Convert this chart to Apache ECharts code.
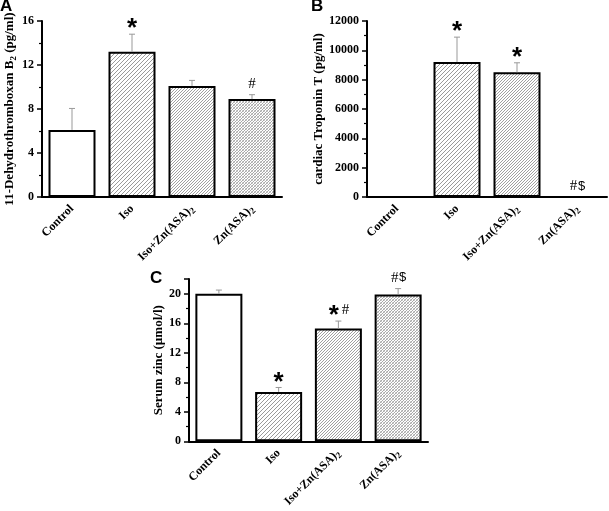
<!DOCTYPE html>
<html>
<head>
<meta charset="utf-8">
<script src="https://cdn.jsdelivr.net/npm/echarts@6/dist/echarts.min.js"></script>
<style>html,body{margin:0;padding:0;background:#fff}#c{width:609px;height:511px}</style>
</head>
<body>
<div id="c"></div>
<script>
// ---- data ----
const categories = ['Control', 'Iso', 'Iso+Zn(ASA)2', 'Zn(ASA)2'];
const thromboxanMean = [6.1, 13.2, 10.1, 8.9];
const thromboxanErrTop = [8.05, 14.8, 10.6, 9.3];
const thromboxanMarks = ['', '*', '', '#'];
const troponinMean = [0, 9200, 8500, 0];
const troponinErrTop = [null, 10900, 9150, null];
const troponinMarks = ['', '*', '*', '#$'];
const zincMean = [20.0, 6.7, 15.3, 19.9];
const zincErrTop = [20.5, 7.3, 16.3, 20.7];
const zincMarks = ['', '*', '*#', '#$'];
const yTicksA = [0, 16, 4];
const yTicksB = [0, 12000, 2000];
const yTicksC = [0, 22, 4];

// ---- styles ----
function hatch(p, color, lw, crossColor) {
  const c = document.createElement('canvas');
  c.width = p; c.height = p;
  const g = c.getContext('2d');
  g.fillStyle = '#fff'; g.fillRect(0, 0, p, p);
  if (crossColor) {
    g.strokeStyle = crossColor; g.lineWidth = lw;
    g.beginPath();
    g.moveTo(0, 0); g.lineTo(p, p);
    g.moveTo(-1, p - 1); g.lineTo(1, p + 1);
    g.moveTo(p - 1, -1); g.lineTo(p + 1, 1);
    g.stroke();
  }
  g.strokeStyle = color; g.lineWidth = lw;
  g.beginPath();
  g.moveTo(0, p); g.lineTo(p, 0);
  g.moveTo(-1, 1); g.lineTo(1, -1);
  g.moveTo(p - 1, p + 1); g.lineTo(p + 1, p - 1);
  g.stroke();
  return { image: c, repeat: 'repeat' };
}
const fills = ['#ffffff', hatch(4, '#9a9a9a', 1), hatch(3, '#a0a0a0', 1), hatch(3, '#a8a8a8', 1, '#d0d0d0')];
const serif = 'Liberation Serif';
const tickFont = { fontFamily: serif, fontWeight: 'bold', fontSize: 12, color: '#000' };

function catLabel(v) {
  return v.replace(/\)2$/, '){sub|2}');
}

const grids = [
  { left: 42, top: 21, width: 240, height: 176 },
  { left: 367, top: 21, width: 240, height: 176 },
  { left: 189, top: 279, width: 239, height: 176 }
];

function xAxis(i) {
  return {
    gridIndex: i, type: 'category', data: categories,
    axisLine: { lineStyle: { color: '#000', width: 2 } },
    axisTick: { show: false },
    axisLabel: Object.assign({}, tickFont, {
      rotate: 45, margin: 10, formatter: catLabel, interval: 0,
      rich: { sub: { fontFamily: serif, fontWeight: 'bold', fontSize: 9, padding: [7, 0, 0, 0], color: '#000' } }
    })
  };
}
function yAxis(i, ticks, name, gap) {
  return {
    gridIndex: i, type: 'value', min: ticks[0], max: ticks[1], interval: ticks[2],
    name: name, nameLocation: 'middle', nameGap: gap, nameRotate: 90,
    nameTextStyle: {
      fontFamily: serif, fontWeight: 'bold', fontSize: 13, color: '#000',
      rich: { sub: { fontFamily: serif, fontWeight: 'bold', fontSize: 9, padding: [7, 0, 0, 0], color: '#000' } }
    },
    axisLine: { show: true, lineStyle: { color: '#000', width: 2 } },
    axisTick: { show: true, inside: false, length: 5, lineStyle: { color: '#000', width: 1.5 } },
    minorTick: { show: true, splitNumber: 2, length: 3, lineStyle: { color: '#000', width: 1.2 } },
    splitLine: { show: false },
    axisLabel: Object.assign({}, tickFont, {
      margin: 8, showMaxLabel: ticks[1] % ticks[2] === 0,
      formatter: v => String(v)
    })
  };
}

function barSeries(i, means) {
  return {
    type: 'bar', xAxisIndex: i, yAxisIndex: i, barWidth: 47,
    data: means.map((v, k) => ({ value: v, itemStyle: { color: fills[k] } })),
    itemStyle: { borderColor: '#000', borderWidth: 2 },
    silent: true, z: 2
  };
}

function errSeries(i, means, tops, marks) {
  return {
    type: 'custom', xAxisIndex: i, yAxisIndex: i, z: 3, silent: true,
    data: means.map((m, k) => [k, m, tops[k] == null ? m : tops[k]]),
    renderItem: function (params, api) {
      const k = api.value(0);
      const base = api.coord([k, api.value(1)]);
      const top = api.coord([k, api.value(2)]);
      const children = [];
      if (api.value(2) > api.value(1)) {
        children.push({ type: 'line', shape: { x1: base[0], y1: base[1], x2: top[0], y2: top[1] }, style: { stroke: '#999', lineWidth: 1 } });
        children.push({ type: 'line', shape: { x1: top[0] - 3, y1: top[1], x2: top[0] + 3, y2: top[1] }, style: { stroke: '#999', lineWidth: 1 } });
      }
      const s = marks[k] || '';
      const widths = s.split('').map(ch => ch === '*' ? 14 : (ch === '$' ? 7 : 9));
      const total = widths.reduce((a, b) => a + b, 0);
      let x = top[0] - total / 2;
      s.split('').forEach((ch, j) => {
        const cx = x + widths[j] / 2;
        if (ch === '*') {
          children.push({ type: 'text', style: { text: '*', x: cx, y: top[1] - 5, fill: '#000', font: 'bold 26px "Liberation Sans"', align: 'center', verticalAlign: 'middle' } });
        } else if (ch === '$') {
          children.push({ type: 'text', style: { text: '$', x: cx, y: top[1] - 11, fill: '#000', font: '13px "Liberation Sans"', align: 'center', verticalAlign: 'middle' } });
        } else {
          children.push({ type: 'text', style: { text: ch, x: cx, y: top[1] - 11, fill: '#000', font: '15px "Liberation Serif"', align: 'center', verticalAlign: 'middle' } });
        }
        x += widths[j];
      });
      return { type: 'group', children: children };
    }
  };
}

const chart = echarts.init(document.getElementById('c'), null, { renderer: 'canvas' });
chart.setOption({
  animation: false,
  backgroundColor: '#fff',
  grid: grids,
  xAxis: [xAxis(0), xAxis(1), xAxis(2)],
  yAxis: [
    yAxis(0, yTicksA, '11-Dehydrothromboxan B{sub|2} (pg/ml)', 22),
    yAxis(1, yTicksB, 'cardiac Troponin T (pg/ml)', 38),
    yAxis(2, yTicksC, 'Serum zinc (\u00b5mol/l)', 24)
  ],
  series: [
    barSeries(0, thromboxanMean), errSeries(0, thromboxanMean, thromboxanErrTop, thromboxanMarks),
    barSeries(1, troponinMean), errSeries(1, troponinMean, troponinErrTop, troponinMarks),
    barSeries(2, zincMean), errSeries(2, zincMean, zincErrTop, zincMarks)
  ],
  graphic: [
    { type: 'text', left: 0, top: -2, style: { text: 'A', font: 'bold 17px "Liberation Sans"', fill: '#000' } },
    { type: 'text', left: 311, top: -2, style: { text: 'B', font: 'bold 17px "Liberation Sans"', fill: '#000' } },
    { type: 'text', left: 150, top: 270, style: { text: 'C', font: 'bold 17px "Liberation Sans"', fill: '#000' } }
  ]
});
</script>
</body>
</html>
